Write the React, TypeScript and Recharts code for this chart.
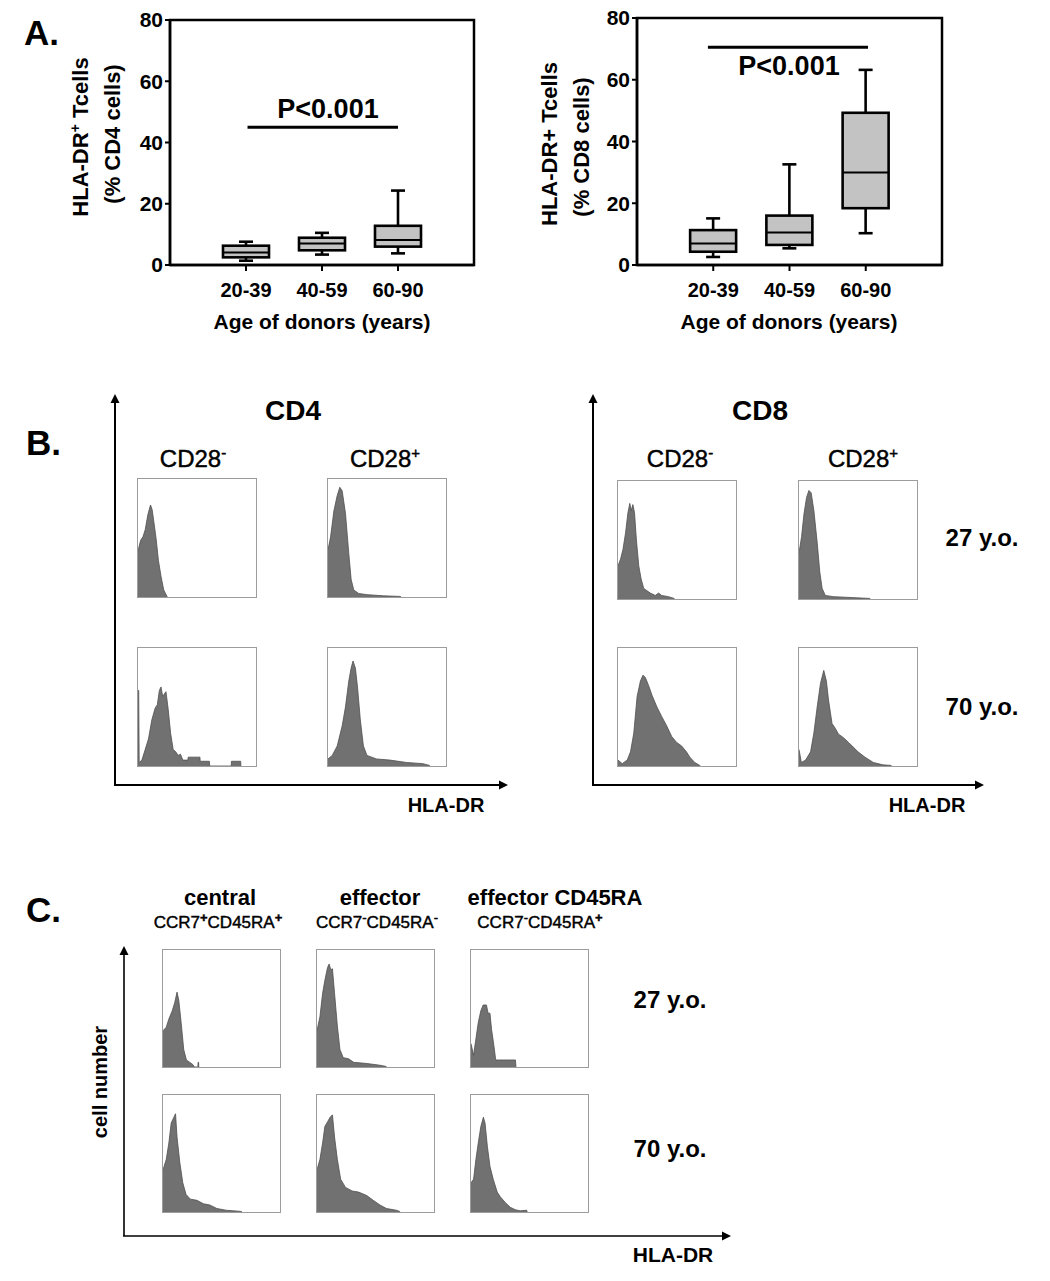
import React from 'react';
import { ComposedChart, Bar, XAxis, YAxis, ReferenceArea, ReferenceLine, AreaChart, Area } from 'recharts';

const FF = '"Liberation Sans", Arial, Helvetica, sans-serif';

// ---------- Panel A data ----------
const ageGroups = ['20-39', '40-59', '60-90'];
const yTicks = [0, 20, 40, 60, 80];

const cd4Min = [1.4, 3.4, 3.8];
const cd4Q1 = [2.5, 4.8, 6.0];
const cd4Median = [4.1, 7.0, 8.2];
const cd4Q3 = [6.3, 8.9, 12.8];
const cd4Max = [7.6, 10.5, 24.3];

const cd8Min = [2.6, 5.4, 10.3];
const cd8Q1 = [4.3, 6.5, 18.4];
const cd8Median = [7.0, 10.5, 30.0];
const cd8Q3 = [11.3, 16.0, 49.3];
const cd8Max = [15.1, 32.6, 63.2];

const cd4PLine = { y: 45, from: 1.02, to: 3.0 };
const cd8PLine = { y: 70.5, from: 0.93, to: 3.03 };

// ---------- Panel B histograms ([HLA-DR position %, cell count %]) ----------
const cd4NegYoung = [[0, 39], [2.2, 48], [4.2, 51], [6.1, 57], [8.4, 70], [10.6, 78], [12, 74], [13.4, 64], [15.4, 49], [17.3, 31], [19.6, 17], [21.8, 6], [24.6, 0.5], [25, 0]];
const cd4PosYoung = [[0, 40], [2.2, 51], [5, 73], [7.8, 86], [10, 93], [12, 90], [14.8, 71], [17.6, 37], [19.6, 15], [21.8, 6], [26, 3], [33, 2], [47, 1], [61, 0.5], [62, 0]];
const cd4NegOld = [[0, 64], [0.6, 64], [1, 3], [3.3, 5], [6.1, 14], [8.9, 23], [11.7, 39], [14.5, 49], [16.4, 52], [18.1, 64], [19.5, 67], [20.9, 59], [22.3, 61], [23.7, 63], [25.6, 48], [27.6, 28], [29.8, 14], [32, 12], [34, 9], [36, 10], [38, 5], [42.3, 5], [42.5, 7.5], [52.5, 7.5], [52.7, 4], [60.5, 4], [60.7, 0], [79, 0], [79.2, 4], [87, 4], [87.2, 0]];
const cd4PosOld = [[0, 6], [3.6, 9], [7.8, 17], [12, 34], [14.8, 50], [17.6, 72], [19.6, 83], [21.2, 89], [23.2, 83], [25, 67], [27.4, 39], [30, 17], [33, 9], [41, 6], [52.5, 5], [66.5, 3], [80.4, 2], [86, 0.5], [86.5, 0]];
const cd8NegYoung = [[0, 28], [2.2, 34], [4.2, 42], [6.4, 56], [8.4, 73], [10, 81], [11.2, 75], [12.6, 80], [14, 73], [15.6, 50], [17.6, 28], [19.6, 17], [21.8, 9], [24.6, 7], [27.4, 5], [31.6, 3], [34.4, 5], [37, 3], [42.7, 2], [47.5, 0.5], [48, 0]];
const cd8PosYoung = [[0, 39], [2.2, 53], [4.2, 72], [6.4, 86], [8.4, 92], [10.3, 90], [12.6, 75], [15.4, 48], [17.6, 23], [19.6, 9], [22.3, 3], [29, 2], [49, 1], [60, 0.5], [60.5, 0]];
const cd8NegOld = [[0, 5], [3.6, 2], [7.8, 5], [10.6, 12], [13.4, 28], [16.2, 59], [19, 72], [21.2, 77], [23.2, 75], [26, 68], [28.8, 60], [33, 50], [37, 42], [41.3, 34], [45.5, 25], [49.7, 20], [53.9, 17], [58, 12], [60.9, 7.5], [65, 3], [69.3, 0.5], [69.8, 0]];
const cd8PosOld = [[0, 14], [2, 3], [5.6, 5], [9.8, 12], [12.6, 28], [15.4, 50], [18.2, 70], [21, 81], [23.2, 72], [25, 56], [28, 36], [30.7, 32], [33.5, 27], [37.7, 24], [42, 20], [46, 16], [50, 12], [55.9, 7.5], [63, 3], [71, 1], [78, 0.5], [78.5, 0]];

// ---------- Panel C histograms ----------
const centralYoung = [[0, 31], [2.8, 34], [5, 41], [7.9, 48], [10, 55], [12, 64], [13.5, 57], [15.5, 38], [17.7, 15], [20, 6], [22.8, 4], [25.6, 2], [26.8, 0], [29.8, 0], [30, 4], [30.4, 4], [30.6, 0]];
const effectorYoung = [[0, 31], [2.5, 43], [4.8, 63], [6.7, 74], [9, 85], [10.4, 88], [11.8, 83], [13.2, 84], [15, 63], [17.4, 35], [19.6, 15], [22.4, 8], [27, 7], [31.4, 4], [42.6, 3], [53.8, 1.5], [59, 0.5], [59.5, 0]];
const emraYoung = [[0, 20], [2.2, 10], [3.9, 22], [6.2, 38], [8.4, 48], [10.4, 53], [13.2, 53], [14.6, 46], [16.2, 46], [17.6, 32], [19.6, 18], [21, 7], [21.3, 6], [38, 6], [38.4, 0]];
const centralOld = [[0, 36], [2.8, 45], [5, 59], [7, 76], [9.3, 81], [10.7, 84], [12, 64], [14.4, 42], [16.9, 25], [19.7, 15], [23.4, 11], [29, 10], [34.6, 7], [40, 6], [46, 3], [54, 1.5], [67, 0.5], [67.5, 0]];
const effectorOld = [[0, 36], [2.5, 45], [4.8, 59], [6.7, 73], [9, 77], [11.2, 81], [13.2, 83], [15, 64], [17.4, 45], [20.2, 28], [24.4, 21], [30, 18], [35.6, 17], [42.6, 14], [48, 10], [53.8, 6], [59.4, 3], [67.8, 1.5], [70.6, 0.5], [71, 0]];
const emraOld = [[0, 25], [2.2, 28], [4.2, 45], [6.2, 59], [8.4, 73], [10.6, 81], [12, 76], [14, 56], [16.2, 39], [19, 28], [22.4, 17], [25, 13], [29.4, 8], [33.6, 4], [37.8, 2], [42, 1], [47.6, 1.5], [48, 0]];

// ---------- Box plot ----------
const renderBox = (props: any) => {
  const { x, y, width, height, payload } = props;
  if (!payload) return <g />;
  const { min, q1, med, q3, max } = payload;
  const h = Math.abs(height);
  const top = height >= 0 ? y : y + height;
  const k = h / (max - min);
  const py = (v: number) => top + (max - v) * k;
  const cx = x + width / 2;
  const cap = 7;
  const sw = 2.6;
  return (
    <g>
      <line x1={cx} x2={cx} y1={py(max)} y2={py(q3)} stroke="#000" strokeWidth={sw} />
      <line x1={cx} x2={cx} y1={py(q1)} y2={py(min)} stroke="#000" strokeWidth={sw} />
      <line x1={cx - cap} x2={cx + cap} y1={py(max)} y2={py(max)} stroke="#000" strokeWidth={sw} />
      <line x1={cx - cap} x2={cx + cap} y1={py(min)} y2={py(min)} stroke="#000" strokeWidth={sw} />
      <rect x={x} y={py(q3)} width={width} height={py(q1) - py(q3)} fill="#c3c3c3" stroke="#000" strokeWidth={sw} />
      <line x1={x} x2={x + width} y1={py(med)} y2={py(med)} stroke="#000" strokeWidth={2} />
    </g>
  );
};

function BoxPlot(p: any) {
  const data = ageGroups.map((g, i) => ({
    pos: i + 1,
    label: g,
    range: [p.mins[i], p.maxs[i]],
    min: p.mins[i], q1: p.q1s[i], med: p.meds[i], q3: p.q3s[i], max: p.maxs[i],
  }));
  return (
    <ComposedChart width={p.width} height={300} data={data} margin={{ top: p.top, right: 16, bottom: 0, left: 0 }}>
      <XAxis
        type="number" dataKey="pos" domain={[0, 4]} ticks={[1, 2, 3]} height={35}
        tickFormatter={(v: number) => ageGroups[v - 1] ?? ''}
        axisLine={{ stroke: '#000', strokeWidth: 2.5 }} tickLine={{ stroke: '#000', strokeWidth: 2 }}
        tickSize={6} tickMargin={12}
        tick={{ fill: '#000', fontSize: 20, fontWeight: 'bold', fontFamily: FF }}
      />
      <YAxis
        type="number" domain={[0, 80]} ticks={yTicks} width={90}
        axisLine={{ stroke: '#000', strokeWidth: 2.5 }} tickLine={{ stroke: '#000', strokeWidth: 2 }}
        tickSize={5} tickMargin={2}
        tick={{ fill: '#000', fontSize: 21, fontWeight: 'bold', fontFamily: FF }}
      />
      <ReferenceArea x1={0} x2={4} y1={0} y2={80} fill="none" fillOpacity={0} stroke="#000" strokeWidth={2.5} />
      <ReferenceLine segment={[{ x: p.pLine.from, y: p.pLine.y }, { x: p.pLine.to, y: p.pLine.y }]} stroke="#000" strokeWidth={3} />
      <Bar dataKey="range" barSize={46} shape={renderBox} isAnimationActive={false} />
    </ComposedChart>
  );
}

// ---------- Histogram ----------
function Histogram({ points, left, top, w = 120, h = 120 }: any) {
  const data = points.map(([x, y]: number[]) => ({ x, y }));
  return (
    <div style={{ position: 'absolute', left, top, width: w, height: h, border: '1px solid #9c9c9c', boxSizing: 'border-box', background: '#fff' }}>
      <AreaChart width={w - 2} height={h - 2} data={data} margin={{ top: 0, right: 0, bottom: 0, left: 0 }}>
        <XAxis type="number" dataKey="x" domain={[0, 100]} hide />
        <YAxis type="number" domain={[0, 100]} hide />
        <Area type="linear" dataKey="y" fill="#717171" fillOpacity={1} stroke="#4f4f4f" strokeWidth={0.8} isAnimationActive={false} dot={false} activeDot={false} />
      </AreaChart>
    </div>
  );
}

function Arrow({ x1, y1, x2, y2, sw = 2 }: any) {
  const dx = x2 - x1, dy = y2 - y1;
  const len = Math.sqrt(dx * dx + dy * dy);
  const ux = dx / len, uy = dy / len;
  const hl = 9, hw = 4.5;
  const bx = x2 - ux * hl, by = y2 - uy * hl;
  return (
    <g>
      <line x1={x1} y1={y1} x2={bx} y2={by} stroke="#000" strokeWidth={sw} />
      <polygon points={`${x2},${y2} ${bx - uy * hw},${by + ux * hw} ${bx + uy * hw},${by - ux * hw}`} fill="#000" />
    </g>
  );
}

export default function App() {
  const bold = { fontFamily: FF, fontWeight: 'bold' as const, fill: '#000' };
  const reg = { fontFamily: FF, fill: '#000', stroke: '#000', strokeWidth: 0.45 };
  return (
    <div style={{ position: 'absolute', left: 0, top: 0, width: 1050, height: 1281, background: '#fff', overflow: 'hidden' }}>
      <div style={{ position: 'absolute', left: 80, top: 0 }}>
        <BoxPlot width={410} top={20} mins={cd4Min} q1s={cd4Q1} meds={cd4Median} q3s={cd4Q3} maxs={cd4Max} pLine={cd4PLine} />
      </div>
      <div style={{ position: 'absolute', left: 547, top: 0 }}>
        <BoxPlot width={411} top={18} mins={cd8Min} q1s={cd8Q1} meds={cd8Median} q3s={cd8Q3} maxs={cd8Max} pLine={cd8PLine} />
      </div>

      <Histogram points={cd4NegYoung} left={137} top={478} />
      <Histogram points={cd4PosYoung} left={327} top={478} />
      <Histogram points={cd4NegOld} left={137} top={647} />
      <Histogram points={cd4PosOld} left={327} top={647} />
      <Histogram points={cd8NegYoung} left={617} top={480} />
      <Histogram points={cd8PosYoung} left={798} top={480} />
      <Histogram points={cd8NegOld} left={617} top={647} />
      <Histogram points={cd8PosOld} left={798} top={647} />

      <Histogram points={centralYoung} left={162} top={949} w={119} h={119} />
      <Histogram points={effectorYoung} left={316} top={949} w={119} h={119} />
      <Histogram points={emraYoung} left={470} top={949} w={119} h={119} />
      <Histogram points={centralOld} left={162} top={1094} w={119} h={119} />
      <Histogram points={effectorOld} left={316} top={1094} w={119} h={119} />
      <Histogram points={emraOld} left={470} top={1094} w={119} h={119} />

      <svg width={1050} height={1281} style={{ position: 'absolute', left: 0, top: 0, pointerEvents: 'none' }}>
        {/* Panel A */}
        <text x={24} y={45} fontSize={35} {...bold}>A.</text>
        <text transform="translate(88,137) rotate(-90)" textAnchor="middle" fontSize={22} {...bold}>
          HLA-DR<tspan dy={-8} fontSize={14}>+</tspan><tspan dy={8}> Tcells</tspan>
        </text>
        <text transform="translate(120,134) rotate(-90)" textAnchor="middle" fontSize={22} {...bold}>(% CD4 cells)</text>
        <text x={328} y={118} textAnchor="middle" fontSize={27} {...bold}>P&lt;0.001</text>
        <text x={322} y={329} textAnchor="middle" fontSize={21} {...bold}>Age of donors (years)</text>

        <text transform="translate(557,144) rotate(-90)" textAnchor="middle" fontSize={22} {...bold}>HLA-DR+ Tcells</text>
        <text transform="translate(589,147) rotate(-90)" textAnchor="middle" fontSize={22} {...bold}>(% CD8 cells)</text>
        <text x={789} y={75} textAnchor="middle" fontSize={27} {...bold}>P&lt;0.001</text>
        <text x={789} y={329} textAnchor="middle" fontSize={21} {...bold}>Age of donors (years)</text>

        {/* Panel B */}
        <text x={26} y={455} fontSize={35} {...bold}>B.</text>
        <Arrow x1={115} y1={785} x2={115} y2={394} />
        <Arrow x1={114} y1={785} x2={508} y2={785} />
        <Arrow x1={593} y1={785} x2={593} y2={394} />
        <Arrow x1={592} y1={785} x2={984} y2={785} />
        <text x={293} y={420} textAnchor="middle" fontSize={28} {...bold}>CD4</text>
        <text x={760} y={420} textAnchor="middle" fontSize={28} {...bold}>CD8</text>
        <text x={193} y={467} textAnchor="middle" fontSize={24} {...reg}>CD28<tspan dy={-9} fontSize={15}>-</tspan></text>
        <text x={385} y={467} textAnchor="middle" fontSize={24} {...reg}>CD28<tspan dy={-9} fontSize={15}>+</tspan></text>
        <text x={680} y={467} textAnchor="middle" fontSize={24} {...reg}>CD28<tspan dy={-9} fontSize={15}>-</tspan></text>
        <text x={863} y={467} textAnchor="middle" fontSize={24} {...reg}>CD28<tspan dy={-9} fontSize={15}>+</tspan></text>
        <text x={982} y={546} textAnchor="middle" fontSize={24} {...bold}>27 y.o.</text>
        <text x={982} y={715} textAnchor="middle" fontSize={24} {...bold}>70 y.o.</text>
        <text x={446} y={812} textAnchor="middle" fontSize={20} {...bold}>HLA-DR</text>
        <text x={927} y={812} textAnchor="middle" fontSize={20} {...bold}>HLA-DR</text>

        {/* Panel C */}
        <text x={26} y={922} fontSize={35} {...bold}>C.</text>
        <Arrow x1={124} y1={1236} x2={124} y2={946} sw={1.6} />
        <Arrow x1={123} y1={1236} x2={731} y2={1236} sw={1.6} />
        <text transform="translate(107,1082) rotate(-90)" textAnchor="middle" fontSize={20} {...bold}>cell number</text>
        <text x={220} y={905} textAnchor="middle" fontSize={22} {...bold}>central</text>
        <text x={380} y={905} textAnchor="middle" fontSize={22} {...bold}>effector</text>
        <text x={555} y={905} textAnchor="middle" fontSize={22} {...bold}>effector CD45RA</text>
        <text x={218} y={928} textAnchor="middle" fontSize={17} {...reg}>
          CCR7<tspan dy={-6} fontSize={13} fontWeight="bold">+</tspan><tspan dy={6}>CD45RA</tspan><tspan dy={-6} fontSize={13} fontWeight="bold">+</tspan>
        </text>
        <text x={377} y={928} textAnchor="middle" fontSize={17} {...reg}>
          CCR7<tspan dy={-6} fontSize={13}>-</tspan><tspan dy={6}>CD45RA</tspan><tspan dy={-6} fontSize={13}>-</tspan>
        </text>
        <text x={540} y={928} textAnchor="middle" fontSize={17} {...reg}>
          CCR7<tspan dy={-6} fontSize={13}>-</tspan><tspan dy={6}>CD45RA</tspan><tspan dy={-6} fontSize={13} fontWeight="bold">+</tspan>
        </text>
        <text x={670} y={1008} textAnchor="middle" fontSize={24} {...bold}>27 y.o.</text>
        <text x={670} y={1157} textAnchor="middle" fontSize={24} {...bold}>70 y.o.</text>
        <text x={673} y={1262} textAnchor="middle" fontSize={21} {...bold}>HLA-DR</text>
      </svg>
    </div>
  );
}
